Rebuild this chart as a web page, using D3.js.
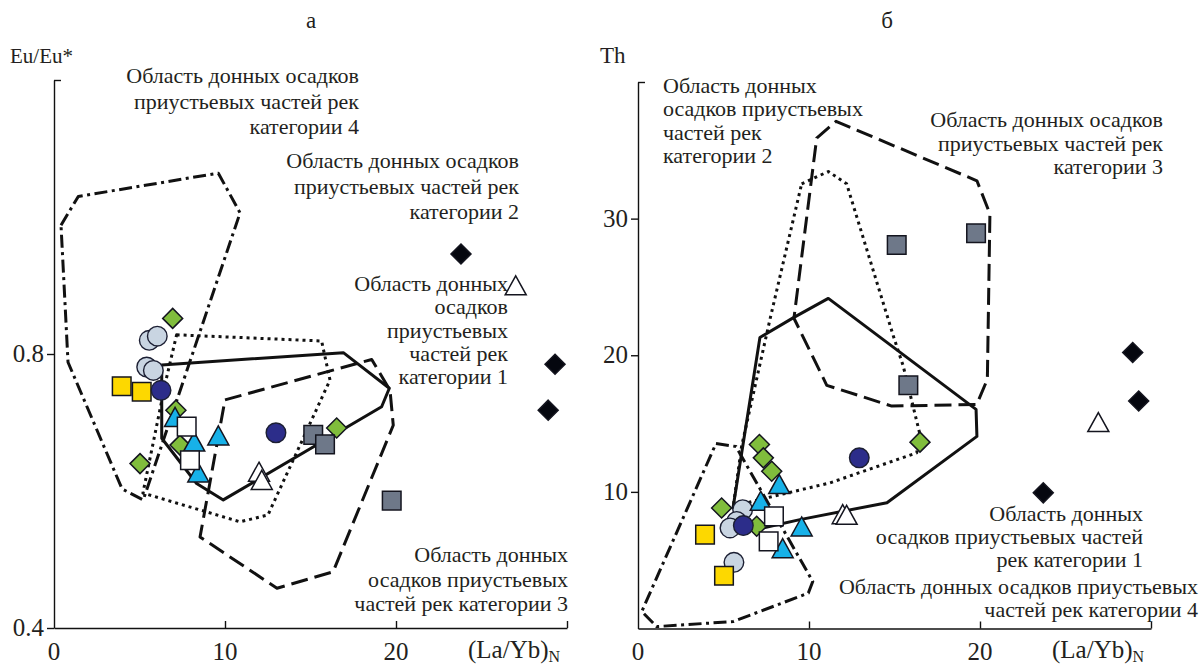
<!DOCTYPE html>
<html>
<head>
<meta charset="utf-8">
<script src="https://cdn.jsdelivr.net/npm/d3@7"></script>
<style>
  html, body { margin: 0; padding: 0; background: #fff; }
  svg { display: block; font-family: "Liberation Serif", "DejaVu Serif", serif; }
</style>
</head>
<body>
<svg id="chart" width="1203" height="667"></svg>
<script>
// ---------- Panel а: Eu/Eu* vs (La/Yb)N ----------
const aBlackDiamond = [[23.8, 0.946], [29.3, 0.785], [28.9, 0.718]];
const aWhiteTriangle = [[27.0, 0.898], [11.99, 0.626], [12.15, 0.614]];
const aLightCircle = [[5.57, 0.820], [6.04, 0.826], [5.42, 0.781], [5.81, 0.776]];
const aGreenDiamond = [[6.94, 0.852], [7.13, 0.718], [7.37, 0.667], [5.03, 0.640], [16.53, 0.692]];
const aCyanTriangle = [[7.08, 0.706], [8.2, 0.670], [9.61, 0.679], [8.44, 0.625]];
const aWhiteSquare = [[7.76, 0.694], [7.95, 0.645]];
const aYellowSquare = [[3.96, 0.753], [5.13, 0.745]];
const aNavyCircle = [[6.26, 0.747], [12.98, 0.685]];
const aGreySquare = [[15.16, 0.682], [15.85, 0.668], [19.75, 0.586]];

// Field outlines, panel а
const aField1 = [[7.17, 0.828], [15.65, 0.819], [16.14, 0.762], [12.51, 0.565], [10.88, 0.555], [5.2, 0.597], [6.55, 0.762]];
const aField2 = [[6.3, 0.784], [16.92, 0.802], [19.61, 0.750], [19.16, 0.723], [9.9, 0.587], [8.34, 0.611], [6.3, 0.677]];
const aField3 = [[10.0, 0.733], [18.58, 0.792], [19.65, 0.747], [19.84, 0.696], [16.32, 0.482], [13.04, 0.458], [8.54, 0.533]];
const aField4 = [[0.41, 0.988], [1.42, 1.030], [9.61, 1.064], [10.88, 1.006], [5.22, 0.587], [3.98, 0.603], [0.82, 0.788]];

// ---------- Panel б: Th vs (La/Yb)N ----------
const bBlackDiamond = [[28.93, 20.2], [29.28, 16.65], [23.7, 9.93]];
const bWhiteTriangle = [[26.92, 15.0], [11.97, 8.26], [12.2, 8.21]];
const bLightCircle = [[6.12, 8.70], [5.77, 7.84], [5.38, 7.36], [5.61, 4.84]];
const bGreenDiamond = [[7.1, 13.47], [7.33, 12.49], [7.82, 11.51], [4.89, 8.82], [6.94, 7.48], [16.49, 13.64]];
const bCyanTriangle = [[8.26, 10.46], [7.18, 9.24], [9.57, 7.36], [8.46, 5.77]];
const bWhiteSquare = [[7.95, 8.21], [7.64, 6.38]];
const bYellowSquare = [[3.92, 6.87], [5.03, 3.86]];
const bNavyCircle = [[6.16, 7.53], [12.94, 12.49]];
const bGreySquare = [[15.13, 28.07], [19.77, 28.93], [15.81, 17.8]];

// Field outlines, panel б
const bField1 = [[9.57, 32.55], [11.13, 33.45], [12.2, 32.55], [14.93, 21.42], [15.51, 19.21], [16.49, 14.2], [16.3, 12.86], [11.23, 10.66], [7.53, 9.56], [5.57, 8.94], [6.06, 13.35], [7.72, 22.64]];
const bField2 = [[7.13, 21.3], [9.12, 22.77], [11.13, 24.16], [19.77, 16.04], [19.82, 14.06], [14.56, 9.21], [9.47, 7.97], [7.13, 7.31], [5.56, 8.85]];
const bField3 = [[10.45, 35.9], [11.58, 37.12], [19.82, 32.77], [20.58, 30.35], [20.43, 18.24], [19.81, 16.4], [14.84, 16.28], [11.04, 17.8], [9.12, 22.71]];
const bField4 = [[4.56, 13.54], [5.73, 13.32], [10.22, 3.44], [9.96, 2.59], [5.57, 0.51], [1.09, 0.14], [0.22, 1.24]];

// ---------- Axis ticks ----------
const xTickLabels = [0, 10, 20];
const xTickMarks = [10, 20, 30];
const aYTickLabels = [0.4, 0.8];
const bYTickLabels = [10, 20, 30];

// ---------- Scales ----------
const xA = d3.scaleLinear().domain([0, 30]).range([54, 567]);
const yA = d3.scaleLinear().domain([0.4, 1.2]).range([628, 80]);
const xB = d3.scaleLinear().domain([0, 30]).range([638, 1151]);
const yB = d3.scaleLinear().domain([0, 40]).range([628.5, 82]);

const svg = d3.select("#chart");
const INK = "#111";
const TEXT = "#231f20";

// Field line styles
const fieldStyles = {
  f1: "3,4",          // dotted
  f2: null,           // solid
  f3: "17,7",         // dashed
  f4: "13,4.5,3,4.5"  // dash-dot
};

function drawFields(g, fields, x, y) {
  const line = d3.line().x(d => x(d[0])).y(d => y(d[1])).curve(d3.curveLinearClosed);
  fields.forEach(([pts, key]) => {
    g.append("path")
      .attr("d", line(pts))
      .attr("fill", "none")
      .attr("stroke", INK)
      .attr("stroke-width", 3)
      .attr("stroke-linejoin", "round")
      .attr("stroke-dasharray", fieldStyles[key]);
  });
}

// Marker shapes
function shapePath(kind, cx, cy) {
  switch (kind) {
    case "square": { const s = 9.3; return `M${cx - s},${cy - s}H${cx + s}V${cy + s}H${cx - s}Z`; }
    case "diamond": { const h = 10; return `M${cx},${cy - h}L${cx + h},${cy}L${cx},${cy + h}L${cx - h},${cy}Z`; }
    case "triangle": { const w = 10.5, t = 11, b = 8; return `M${cx},${cy - t}L${cx + w},${cy + b}L${cx - w},${cy + b}Z`; }
    default: return null;
  }
}

function drawMarkers(g, groups, x, y) {
  groups.forEach(([pts, kind, fill]) => {
    pts.forEach(p => {
      const cx = x(p[0]), cy = y(p[1]);
      if (kind === "circle") {
        g.append("circle").attr("cx", cx).attr("cy", cy).attr("r", 9.8)
          .attr("fill", fill).attr("stroke", "#1c1f33").attr("stroke-width", 1.4);
      } else {
        g.append("path").attr("d", shapePath(kind, cx, cy))
          .attr("fill", fill).attr("stroke", "#14151f").attr("stroke-width", 1.5)
          .attr("stroke-linejoin", "miter");
      }
    });
  });
}

function drawAxes(g, x, y, yLabels, yFmt, yMax) {
  const [x0, x1] = x.range();
  const [y0] = y.range();
  // y axis with outward ticks
  g.append("g").attr("transform", `translate(${x0},0)`)
    .call(d3.axisLeft(y).tickValues(yLabels).tickSize(7).tickSizeOuter(0).tickFormat(""))
    .call(s => { s.select(".domain").attr("stroke", INK).attr("stroke-width", 1.4); s.selectAll(".tick line").attr("stroke", INK).attr("stroke-width", 1.4); });
  // top cap tick pointing inward
  g.append("g").attr("transform", `translate(${x0},0)`)
    .call(d3.axisRight(y).tickValues([yMax]).tickSize(7).tickSizeOuter(0).tickFormat(""))
    .call(s => { s.select(".domain").remove(); s.selectAll(".tick line").attr("stroke", INK).attr("stroke-width", 1.4); });
  // x axis with inward ticks
  g.append("g").attr("transform", `translate(0,${y0})`)
    .call(d3.axisBottom(x).tickValues(xTickMarks).tickSizeInner(-7).tickSizeOuter(0).tickFormat(""))
    .call(s => { s.select(".domain").attr("stroke", INK).attr("stroke-width", 1.4); s.selectAll(".tick line").attr("stroke", INK).attr("stroke-width", 1.4); });

  // tick labels
  g.selectAll(".xl").data(xTickLabels).join("text")
    .attr("x", d => x(d)).attr("y", 660).attr("text-anchor", "middle")
    .attr("font-size", 25).attr("fill", TEXT).text(d => d);
  g.selectAll(".yl").data(yLabels).join("text")
    .attr("x", x0 - 10).attr("y", d => y(d) + 8).attr("text-anchor", "end")
    .attr("font-size", 25).attr("fill", TEXT).text(yFmt);

  // x-axis title with subscript
  const t = g.append("text").attr("x", x1 - 99).attr("y", 658).attr("font-size", 25).attr("fill", TEXT);
  t.append("tspan").text("(La/Yb)");
  t.append("tspan").attr("dy", 4).attr("font-size", 16).text("N");
}

function drawNote(g, lines, x, y0, step, anchor) {
  const t = g.append("text").attr("font-size", 22).attr("fill", TEXT).attr("text-anchor", anchor);
  lines.forEach((s, i) => t.append("tspan").attr("x", x).attr("y", y0 + i * step).text(s));
}

// ---------- Panel а ----------
const gA = svg.append("g");
drawAxes(gA, xA, yA, aYTickLabels, d3.format(".1f"), 1.2);
gA.append("text").attr("x", 10).attr("y", 63).attr("font-size", 21).attr("fill", TEXT).text("Eu/Eu*");
gA.append("text").attr("x", 311).attr("y", 28).attr("text-anchor", "middle").attr("font-size", 23).attr("fill", TEXT).text("а");
drawFields(gA, [[aField4, "f4"], [aField1, "f1"], [aField2, "f2"], [aField3, "f3"]], xA, yA);
drawMarkers(gA, [
  [aLightCircle, "circle", "#c9d5e2"],
  [aGreenDiamond, "diamond", "#80bd3c"],
  [aCyanTriangle, "triangle", "#17b1e8"],
  [aWhiteSquare, "square", "#ffffff"],
  [aYellowSquare, "square", "#fdd800"],
  [aNavyCircle, "circle", "#2c2d8a"],
  [aGreySquare, "square", "#6e7889"],
  [aWhiteTriangle, "triangle", "#ffffff"],
  [aBlackDiamond, "diamond", "#05070f"]
], xA, yA);
drawNote(gA, ["Область донных осадков", "приустьевых частей рек", "категории 4"], 359, 83, 25.5, "end");
drawNote(gA, ["Область донных осадков", "приустьевых частей рек", "категории 2"], 519, 168, 25.5, "end");
drawNote(gA, ["Область донных", "осадков", "приустьевых", "частей рек", "категории 1"], 508, 291, 23.3, "end");
drawNote(gA, ["Область донных", "осадков приустьевых", "частей рек категории 3"], 568, 562, 24.5, "end");

// ---------- Panel б ----------
const gB = svg.append("g");
drawAxes(gB, xB, yB, bYTickLabels, d3.format("d"), 40);
gB.append("text").attr("x", 600).attr("y", 63).attr("font-size", 23).attr("fill", TEXT).text("Th");
gB.append("text").attr("x", 887).attr("y", 28).attr("text-anchor", "middle").attr("font-size", 23).attr("fill", TEXT).text("б");
drawFields(gB, [[bField4, "f4"], [bField1, "f1"], [bField2, "f2"], [bField3, "f3"]], xB, yB);
drawMarkers(gB, [
  [bLightCircle, "circle", "#c9d5e2"],
  [bGreenDiamond, "diamond", "#80bd3c"],
  [bCyanTriangle, "triangle", "#17b1e8"],
  [bWhiteSquare, "square", "#ffffff"],
  [bYellowSquare, "square", "#fdd800"],
  [bNavyCircle, "circle", "#2c2d8a"],
  [bGreySquare, "square", "#6e7889"],
  [bWhiteTriangle, "triangle", "#ffffff"],
  [bBlackDiamond, "diamond", "#05070f"]
], xB, yB);
drawNote(gB, ["Область донных", "осадков приустьевых", "частей рек", "категории 2"], 663, 93, 23.3, "start");
drawNote(gB, ["Область донных осадков", "приустьевых частей рек", "категории 3"], 1163, 127, 23.5, "end");
drawNote(gB, ["Область донных", "осадков приустьевых частей", "рек категории 1"], 1143, 521, 23, "end");
drawNote(gB, ["Область донных осадков приустьевых", "частей рек категории 4"], 1198, 594, 23, "end");
</script>
</body>
</html>
